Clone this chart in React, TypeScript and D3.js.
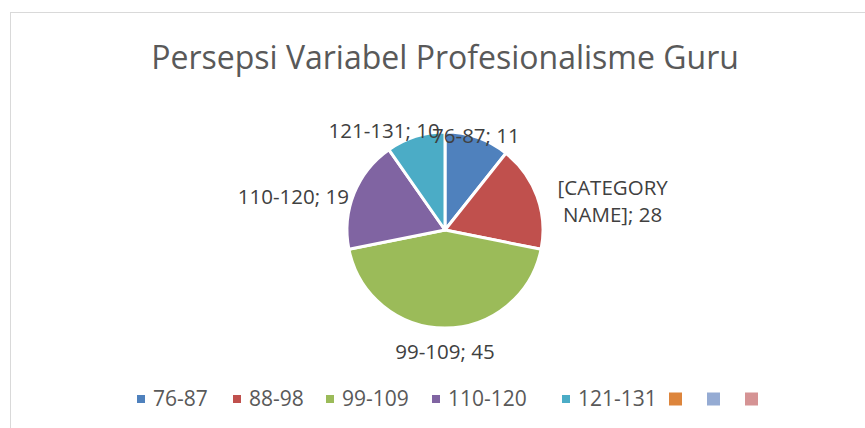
import React, { useRef, useEffect } from 'react';
import * as d3 from 'd3';

const title = 'Persepsi Variabel Profesionalisme Guru';
const categories = ['76-87', '88-98', '99-109', '110-120', '121-131'];
// slice sizes as drawn in the picture (the 88-98 label text reads 28)
const values = [11, 18, 45, 19, 10];
const labelTexts = [['76-87; 11'], ['[CATEGORY', 'NAME]; 28'], ['99-109; 45'], ['110-120; 19'], ['121-131; 10']];
const colors = ['#4F81BD', '#C0504D', '#9BBB59', '#8064A2', '#4BACC6'];
// extra (empty) legend entries
const extraColors = ['#DD853C', '#95ABD3', '#D59394'];

// where each data label sits: distance from centre, anchor, nudges
const labelLayout = [
  { r: 100, anchor: 'middle', dx: -2, dy: 0 },
  { r: 170, anchor: 'middle', dx: 8, dy: 30 },
  { r: 122, anchor: 'middle', dx: 0, dy: 0 },
  { r: 110, anchor: 'end', dx: 6, dy: 8 },
  { r: 103, anchor: 'middle', dx: -30, dy: -1 },
];

function PieChart(props: { width: number; height: number }) {
  const { width, height } = props;
  const svgRef = useRef<SVGSVGElement>(null);

  const cx = 445;
  const cy = 230;
  const radius = 98;

  useEffect(() => {
    const svg = d3.select(svgRef.current);
    svg.selectAll('*').remove();

    // chart area border
    svg.append('rect')
      .attr('x', 10.5).attr('y', 12.5)
      .attr('width', width).attr('height', height)
      .attr('fill', 'white').attr('stroke', '#D9D9D9').attr('stroke-width', 1);

    svg.append('text')
      .attr('x', cx).attr('y', 69)
      .attr('text-anchor', 'middle')
      .attr('font-size', 32)
      .attr('fill', '#595959')
      .text(title);

    const pie = d3.pie<number>().sort(null).value(d => d);
    const arcs = pie(values);
    const arc = d3.arc<d3.PieArcDatum<number>>().innerRadius(0).outerRadius(radius);

    const g = svg.append('g').attr('transform', `translate(${cx},${cy})`);
    g.selectAll('path').data(arcs).enter().append('path')
      .attr('d', arc)
      .attr('fill', (d, i) => colors[i])
      .attr('stroke', 'white')
      .attr('stroke-width', 3)
      .attr('stroke-linejoin', 'round');

    const lg = g.selectAll('g.lbl').data(arcs).enter().append('g').attr('class', 'lbl');
    lg.each(function (d, i) {
      const lay = labelLayout[i];
      const a = (d.startAngle + d.endAngle) / 2;
      const x = Math.sin(a) * lay.r + lay.dx;
      const y = -Math.cos(a) * lay.r + lay.dy;
      const lines = labelTexts[i];
      const lineH = 27;
      const t = d3.select(this).append('text')
        .attr('text-anchor', lay.anchor)
        .attr('font-size', 20.5)
        .attr('fill', '#404040');
      lines.forEach((ln, k) => {
        t.append('tspan')
          .attr('x', x)
          .attr('y', y + 7 + (k - (lines.length - 1) / 2) * lineH)
          .text(ln);
      });
    });

    // legend
    const legendItems = categories.map((c, i) => ({ label: c, color: colors[i], size: 8 }))
      .concat(extraColors.map(c => ({ label: '', color: c, size: 13 })));
    const xs = [137, 233, 326, 432, 562, 669, 707, 745];
    const leg = svg.append('g');
    legendItems.forEach((it, i) => {
      const x0 = xs[i];
      leg.append('rect')
        .attr('x', x0).attr('y', 399 - it.size / 2)
        .attr('width', it.size).attr('height', it.size)
        .attr('fill', it.color);
      if (it.label) {
        leg.append('text')
          .attr('x', x0 + 16).attr('y', 406)
          .attr('font-size', 21)
          .attr('fill', '#595959')
          .text(it.label);
      }
    });
  });

  return (
    <svg ref={svgRef} width={width} height={height}
      style={{ position: 'absolute', left: 0, top: 0, fontFamily: 'Open Sans, sans-serif' }} />
  );
}

export default function App() {
  return <PieChart width={865} height={428} />;
}
